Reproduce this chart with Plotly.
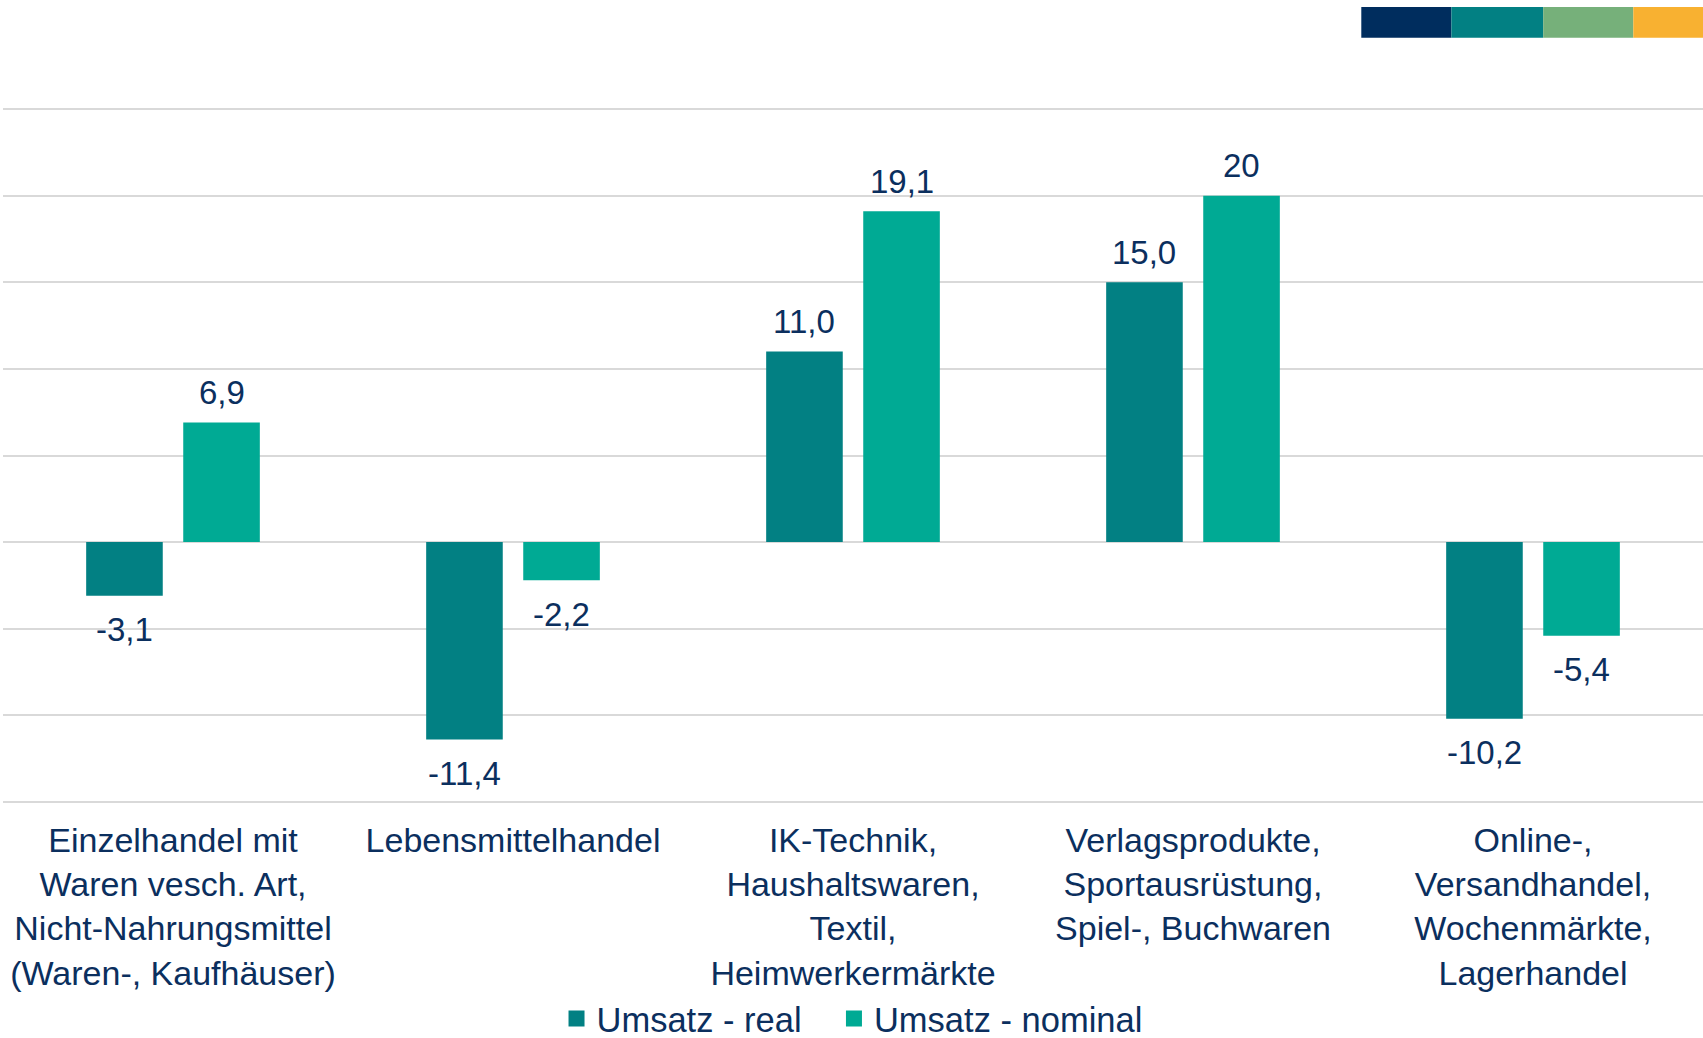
import plotly.graph_objects as go

categories = [
    "Einzelhandel mit<br>Waren vesch. Art,<br>Nicht-Nahrungsmittel<br>(Waren-, Kaufhäuser)",
    "Lebensmittelhandel",
    "IK-Technik,<br>Haushaltswaren,<br>Textil,<br>Heimwerkermärkte",
    "Verlagsprodukte,<br>Sportausrüstung,<br>Spiel-, Buchwaren",
    "Online-,<br>Versandhandel,<br>Wochenmärkte,<br>Lagerhandel",
]
umsatz_real = [-3.1, -11.4, 11.0, 15.0, -10.2]
umsatz_nominal = [6.9, -2.2, 19.1, 20.0, -5.4]
labels_real = ["-3,1", "-11,4", "11,0", "15,0", "-10,2"]
labels_nominal = ["6,9", "-2,2", "19,1", "20", "-5,4"]

NAVY = "#0B2F5E"
C_REAL = "#028083"
C_NOM = "#00AA94"
FONT = "Liberation Sans, Arial, sans-serif"

W, H = 1703, 1038
ML, MR, MT, MB = 3, 0, 107, 234
BARGAP, BARGROUPGAP = 0.429, 0.211

fig = go.Figure()
for name, vals, col, lg in [("Umsatz - real", umsatz_real, C_REAL, "legend"),
                            ("Umsatz - nominal", umsatz_nominal, C_NOM, "legend2")]:
    fig.add_trace(go.Bar(x=categories, y=vals, name=name, showlegend=False,
                         marker=dict(color=col, line=dict(width=0))))
    # legend proxy with a larger square symbol
    fig.add_trace(go.Scatter(x=[None], y=[None], mode="markers", name=name, legend=lg,
                             marker=dict(symbol="square", size=19, color=col)))

# value labels placed relative to the bar ends
plot_w = W - ML - MR
slot_px = plot_w / len(categories) * (1 - BARGAP) / 2
for vals, labs, side in [(umsatz_real, labels_real, -1), (umsatz_nominal, labels_nominal, 1)]:
    for c, v, t in zip(categories, vals, labs):
        fig.add_annotation(x=c, y=v, xref="x", yref="y", text=t, showarrow=False,
                           xshift=side * slot_px / 2, yshift=30 if v >= 0 else -34,
                           yanchor="middle",
                           font=dict(size=33, color=NAVY, family=FONT))

# decorative colour strip (top right)
strip = [("#002D5E", 0.799, 0.852), ("#028083", 0.852, 0.906),
         ("#76B07A", 0.906, 0.959), ("#F8B131", 0.959, 1.0)]
for col, x0, x1 in strip:
    fig.add_shape(type="rect", xref="paper", yref="paper", x0=x0, x1=x1,
                  y0=1.0994, y1=1.1435, fillcolor=col, line=dict(width=0), layer="above")

legend_style = dict(orientation="h", y=-0.308, yanchor="middle", xanchor="left",
                    font=dict(size=34.5, color=NAVY, family=FONT), itemsizing="trace",
                    itemwidth=30, bgcolor="rgba(0,0,0,0)")

fig.update_layout(
    width=W, height=H,
    paper_bgcolor="white", plot_bgcolor="white",
    margin=dict(l=ML, r=MR, t=MT, b=MB, autoexpand=False),
    barmode="group", bargap=BARGAP, bargroupgap=BARGROUPGAP,
    font=dict(family=FONT, size=34, color=NAVY),
    showlegend=True,
    legend=dict(x=0.3256, **legend_style),
    legend2=dict(x=0.4888, **legend_style),
    xaxis=dict(showgrid=False, showline=False, ticks="", tickfont=dict(size=34, color=NAVY),
               tickangle=0, automargin=False, ticklabelstandoff=13),
    yaxis=dict(range=[-15.12, 25.12], dtick=5, tick0=0, showticklabels=False,
               showgrid=True, gridcolor="#D9D9D9", gridwidth=2,
               zeroline=True, zerolinecolor="#D9D9D9", zerolinewidth=2,
               showline=False, ticks="", automargin=False),
)

fig.write_html("out.html", config={"displayModeBar": False},
               post_script="document.body.style.margin='0';document.body.style.overflow='hidden';")
